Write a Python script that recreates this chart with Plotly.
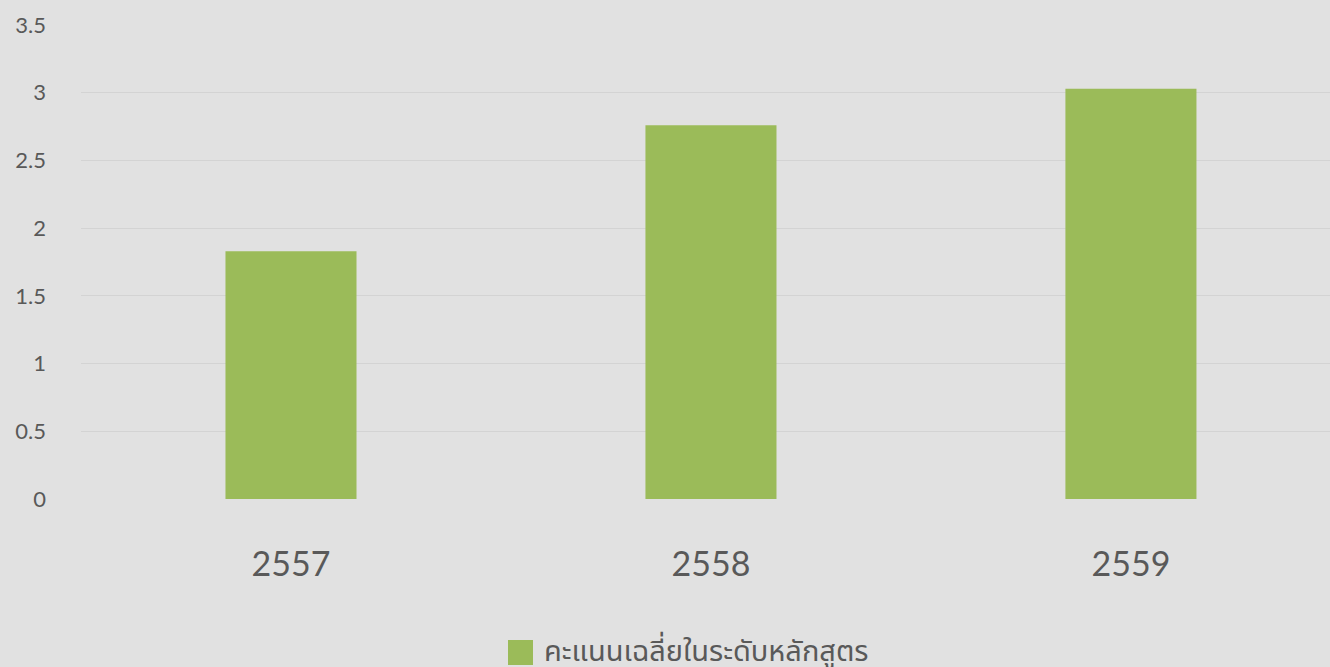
import plotly.graph_objects as go

categories = ["2557", "2558", "2559"]
values = [1.83, 2.76, 3.03]
series_name = "คะแนนเฉลี่ยในระดับหลักสูตร"
y_ticks = [0, 0.5, 1, 1.5, 2, 2.5, 3, 3.5]
y_tick_labels = ["0", "0.5", "1", "1.5", "2", "2.5", "3", "3.5"]

BAR = "#9BBB59"
BG = "#e1e1e1"
TXT = "#595959"
FONT = "Lato, 'Noto Sans Thai', 'Noto Sans', sans-serif"

fig = go.Figure()
fig.add_trace(go.Bar(x=categories, y=values, name=series_name,
                     marker=dict(color=BAR, line=dict(width=0)),
                     width=0.312, showlegend=False))

fig.update_layout(
    width=1330, height=667,
    margin=dict(l=81, r=0, t=25, b=168),
    paper_bgcolor=BG, plot_bgcolor=BG,
    font=dict(family=FONT, color=TXT),
    xaxis=dict(type="category", range=[-0.5, 2.474], showgrid=False,
               showline=False, zeroline=False, ticks="",
               tickfont=dict(size=34, color=TXT), ticklabelstandoff=42),
    yaxis=dict(range=[0, 3.5], tickvals=y_ticks, ticktext=y_tick_labels,
               showgrid=True, gridcolor="#d3d3d3", gridwidth=1,
               zeroline=False, showline=False, ticks="",
               tickfont=dict(size=22, color=TXT), ticklabelstandoff=34),
    showlegend=False,
)

# legend drawn manually (square + text)
fig.add_shape(type="rect", xref="paper", yref="paper",
              x0=(508 - 81) / 1249, x1=(533 - 81) / 1249,
              y0=-(665 - 499) / 474, y1=-(640 - 499) / 474,
              fillcolor=BAR, line=dict(width=0))
fig.add_annotation(xref="paper", yref="paper",
                   x=(542 - 81) / 1249, y=-(650 - 499) / 474,
                   xanchor="left", yanchor="middle", showarrow=False,
                   text=series_name, font=dict(size=29, color=TXT, family=FONT))

fig.write_html(
    "out.html",
    config={"displayModeBar": False},
    post_script="document.body.style.margin='0';document.body.style.padding='0';"
                "document.body.style.overflow='hidden';"
                "document.body.style.background='" + BG + "';",
)
